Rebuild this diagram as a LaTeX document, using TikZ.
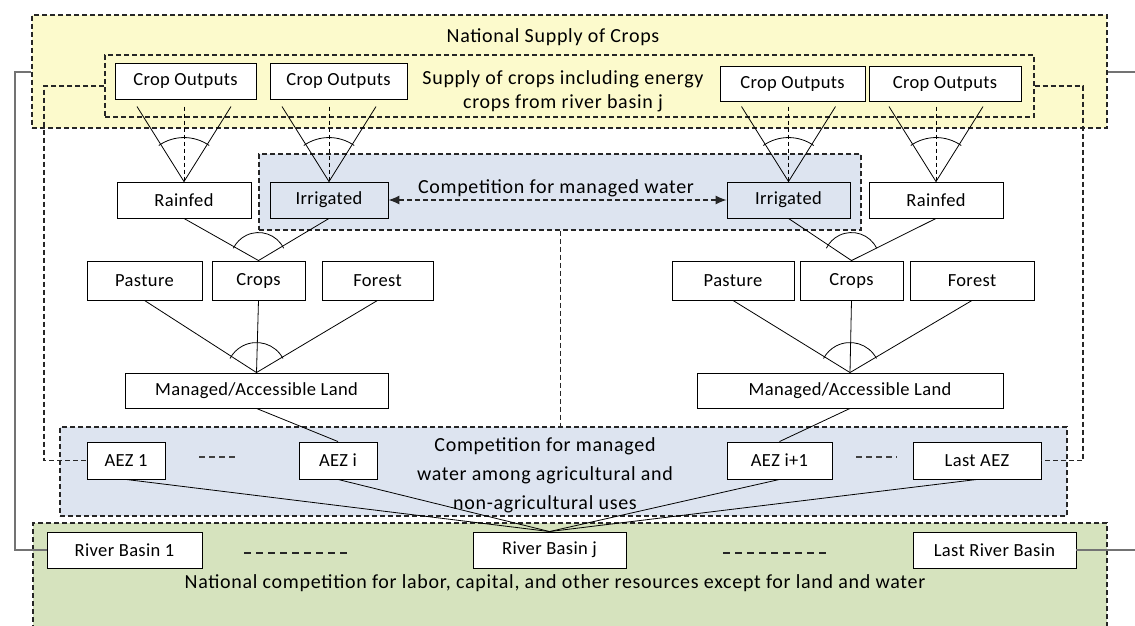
\documentclass[tikz,border=0pt]{standalone}
\usepackage{fontspec}
\setmainfont{Carlito}
\usetikzlibrary{arrows.meta,calc}
\definecolor{ylw}{RGB}{252,250,204}
\definecolor{blu}{RGB}{221,228,240}
\definecolor{grn}{RGB}{214,227,190}
\tikzset{
  box/.style={draw=black, line width=0.9pt, fill=white, inner sep=0pt, font=\fontsize{18.5}{20}\selectfont\addfontfeatures{LetterSpace=2}},
  irrbox/.style={box, fill=blu},
  cont/.style={draw=black!85, line width=1.1pt, dash pattern=on 5pt off 3pt, inner sep=0pt},
  lbl/.style={font=\fontsize{20}{24}\selectfont\addfontfeatures{LetterSpace=3.5}, align=center, inner sep=0pt},
  link/.style={draw=black, line width=0.8pt},
  dlink/.style={draw=black, line width=0.8pt, dash pattern=on 4pt off 3pt},
  brk/.style={draw=black!55, line width=1.5pt},
  dbrk/.style={draw=black!85, line width=1.1pt, dash pattern=on 5pt off 3pt},
  ell/.style={draw=black!75, line width=2pt, dash pattern=on 6pt off 4pt},
  ell2/.style={draw=black!85, line width=1.4pt, dash pattern=on 7pt off 5pt},
}
\begin{document}
\begin{tikzpicture}[x=1pt,y=1pt]
\useasboundingbox (0,0) rectangle (1135,-626);
\begin{scope}
\clip (0,0) rectangle (1135,-626);
% containers
\node[cont, fill=ylw, minimum width=1075pt, minimum height=113pt] (natl) at (569.5,-71.5) {};
\node[cont, minimum width=929pt, minimum height=62pt] (inner) at (569.5,-86) {};
\node[cont, fill=blu, minimum width=602pt, minimum height=76pt] (comp) at (560,-192) {};
\node[cont, fill=blu, minimum width=1007pt, minimum height=89pt] (aezbox) at (563.5,-471.5) {};
\node[cont, fill=grn, minimum width=1074pt, minimum height=110pt] (green) at (570,-578) {};
\end{scope}
% labels
\node[lbl] (tnat) at (553,-37) {National Supply of Crops};
\node[lbl, font=\fontsize{20}{24}\selectfont\addfontfeatures{LetterSpace=3.5}] (tsup) at (563,-91) {Supply of crops including energy\\crops from river basin j};
\node[lbl] (tcomp) at (556,-188) {Competition for managed water};
\node[lbl, font=\fontsize{20}{29}\selectfont\addfontfeatures{LetterSpace=3.5}] (taez) at (545,-475) {Competition for managed\\water among agricultural and\\non-agricultural uses};
\node[lbl] (tgrn) at (555,-583) {National competition for labor, capital, and other resources except for land and water};
% boxes
\node[box, minimum width=141pt, minimum height=36pt] (co1) at (185.5,-81) {Crop Outputs};
\node[box, minimum width=137pt, minimum height=36pt] (co2) at (338.5,-81) {Crop Outputs};
\node[box, minimum width=145pt, minimum height=35pt] (co3) at (792.5,-83.5) {Crop Outputs};
\node[box, minimum width=152pt, minimum height=35pt] (co4) at (945,-83.5) {Crop Outputs};
\node[box, minimum width=134pt, minimum height=36pt] (rainL) at (184,-200) {Rainfed};
\node[irrbox, minimum width=118pt, minimum height=36pt] (irrL) at (329,-200) {Irrigated};
\node[irrbox, minimum width=123pt, minimum height=36pt] (irrR) at (788.5,-200) {Irrigated};
\node[box, minimum width=134pt, minimum height=36pt] (rainR) at (936,-200) {Rainfed};
\node[box, minimum width=115pt, minimum height=39pt] (pastL) at (144.5,-280.5) {Pasture};
\node[box, minimum width=93pt, minimum height=39pt] (cropsL) at (258.5,-280.5) {Crops};
\node[box, minimum width=111pt, minimum height=39pt] (forL) at (377.5,-280.5) {Forest};
\node[box, minimum width=122pt, minimum height=39pt] (pastR) at (733,-280.5) {Pasture};
\node[box, minimum width=103pt, minimum height=39pt] (cropsR) at (851.5,-280.5) {Crops};
\node[box, minimum width=124pt, minimum height=39pt] (forR) at (972,-280.5) {Forest};
\node[box, minimum width=263pt, minimum height=35pt] (manL) at (256.5,-390.5) {Managed/Accessible Land};
\node[box, minimum width=306pt, minimum height=35pt] (manR) at (850,-390.5) {Managed/Accessible Land};
\node[box, minimum width=78pt, minimum height=37pt] (aez1) at (126,-460.5) {AEZ 1};
\node[box, minimum width=78pt, minimum height=37pt] (aezi) at (338,-460.5) {AEZ i};
\node[box, minimum width=105pt, minimum height=37pt] (aezi1) at (779.5,-460.5) {AEZ i+1};
\node[box, minimum width=128pt, minimum height=37pt] (aezL) at (977,-460.5) {Last AEZ};
\node[box, minimum width=155pt, minimum height=36pt] (rb1) at (124.5,-550) {River Basin 1};
\node[box, minimum width=153pt, minimum height=36pt] (rbj) at (549.5,-550) {River Basin j};
\node[box, minimum width=163pt, minimum height=36pt] (rbL) at (994.5,-550) {Last River Basin};
% top V's (outputs)
\foreach \n in {rainL,irrL,irrR,rainR}{
  \draw[link] ($(\n.north)+(-47,75)$) -- (\n.north) -- ($(\n.north)+(47,75)$);
  \draw[dlink] ($(\n.north)+(0,75)$) -- (\n.north);
  \draw[link] ($(\n.north)+(55:44pt)$) arc[start angle=55,end angle=125,radius=44pt];
}
% rainfed / irrigated -> crops
\draw[link] (rainL.south) -- (cropsL.north) -- (irrL.south);
\draw[link] ($(cropsL.north)+(26:28pt)$) arc[start angle=26,end angle=154,radius=28pt];
\draw[link] (irrR.south) -- (cropsR.north) -- (rainR.south);
\draw[link] ($(cropsR.north)+(26:28pt)$) arc[start angle=26,end angle=154,radius=28pt];
% land use -> managed land
\draw[link] (pastL.south) -- (manL.north) -- (forL.south);
\draw[link] (cropsL.south) -- (manL.north);
\draw[link] ($(manL.north)+(28:30pt)$) arc[start angle=28,end angle=152,radius=30pt];
\draw[link] (pastR.south) -- (manR.north) -- (forR.south);
\draw[link] (cropsR.south) -- (manR.north);
\draw[link] ($(manR.north)+(28:30pt)$) arc[start angle=28,end angle=152,radius=30pt];
% managed land -> AEZ
\draw[link] (manL.south) -- (aezi.north);
\draw[link] (manR.south) -- (aezi1.north);
% AEZ -> river basin j
\foreach \n in {aez1,aezi,aezi1,aezL}{\draw[link] (\n.south) -- (rbj.north);}
% competition arrow
\draw[dbrk, line width=1.1pt, {Latex[length=11pt,width=9pt]}-{Latex[length=11pt,width=9pt]}] (irrL.east) -- (irrR.west);
% middle dashed vertical
\draw[dbrk, line width=0.9pt] (comp.south) -- (comp.south |- aezbox.north);
% dashed brackets
\coordinate (lc) at (44,-86);
\coordinate (rc) at (1083,-86);
\draw[dbrk] (inner.west) -- (lc) |- (aez1.west);
\draw[dbrk] (inner.east) -- (rc) |- (aezL.east);
% solid grey brackets
\coordinate (lg) at (15,-72);
\coordinate (rg) at (1135,-72);
\coordinate (rg2) at (1135,-550);
\draw[brk] (natl.west |- lg) -- (lg) |- (rb1.west);
\draw[brk] (natl.east |- rg) -- (rg);
\draw[brk] (rbL.east) -- (rg2);
% ellipses
\draw[ell] (199,-457) -- (238,-457);
\draw[ell] (856,-457) -- (897,-457);
\draw[ell2] (244,-553) -- (351,-553);
\draw[ell2] (723,-553) -- (830,-553);
\end{tikzpicture}
\end{document}
